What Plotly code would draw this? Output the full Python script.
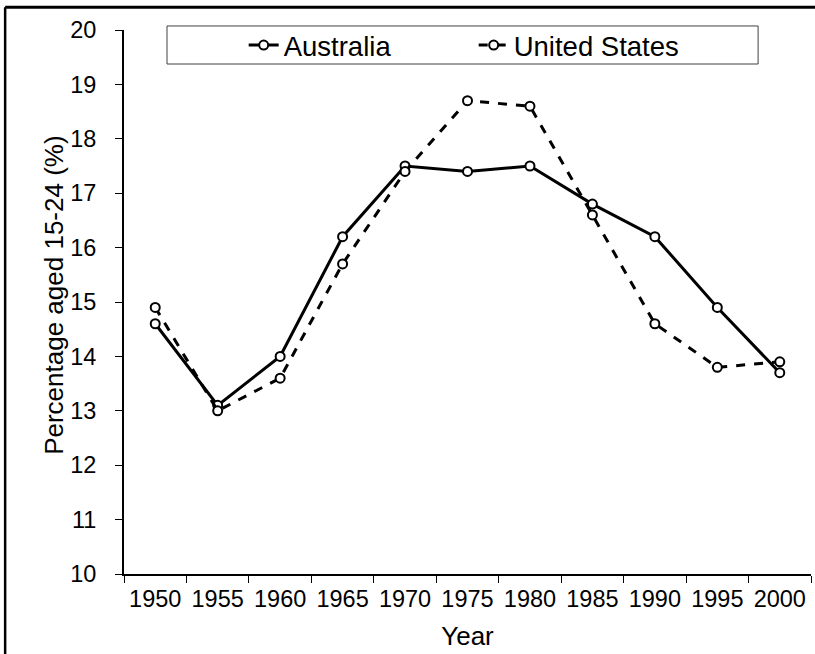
import plotly.graph_objects as go

years = ["1950", "1955", "1960", "1965", "1970", "1975", "1980", "1985", "1990", "1995", "2000"]
australia = [14.6, 13.1, 14.0, 16.2, 17.5, 17.4, 17.5, 16.8, 16.2, 14.9, 13.7]
united_states = [14.9, 13.0, 13.6, 15.7, 17.4, 18.7, 18.6, 16.6, 14.6, 13.8, 13.9]

font_family = "Arial, Liberation Sans, sans-serif"

fig = go.Figure()

# one trace per country, open circle markers
for name, vals, dash in [("Australia", australia, "solid"),
                         ("United States", united_states, "dash")]:
    fig.add_trace(go.Scatter(
        x=years, y=vals, name=name, mode="lines+markers",
        line=dict(color="black", width=3, dash=dash),
        marker=dict(symbol="circle", size=9, color="white",
                    line=dict(color="black", width=2)),
    ))

fig.update_layout(
    width=815,
    height=654,
    margin=dict(l=124, r=4, t=30, b=80, autoexpand=False),
    paper_bgcolor="white",
    plot_bgcolor="white",
    font=dict(family=font_family, color="black", size=23.5),
    legend=dict(
        orientation="h",
        x=0.509, xanchor="center",
        y=0.972, yanchor="middle",
        font=dict(size=27.5),
        entrywidth=185,
        bgcolor="rgba(0,0,0,0)",
        borderwidth=0,
    ),
    xaxis=dict(
        type="category",
        range=[-0.5, len(years) - 0.5],
        tickson="boundaries",
        ticks="outside",
        ticklen=7,
        tickcolor="black",
        tickangle=0,
        ticklabelstandoff=3,
        showline=True,
        linecolor="black",
        linewidth=2,
        showgrid=False,
        zeroline=False,
        automargin=False,
        tickfont=dict(size=23.5),
        title=dict(text="Year", font=dict(size=26), standoff=16),
    ),
    yaxis=dict(
        range=[10, 20],
        dtick=1,
        ticks="outside",
        ticklen=7,
        tickcolor="black",
        ticklabelstandoff=14,
        showline=True,
        linecolor="black",
        linewidth=2,
        showgrid=False,
        zeroline=False,
        automargin=False,
        tickfont=dict(size=23.5),
    ),
)

# y title as a rotated annotation so it can sit closer to the tick labels
fig.add_annotation(text="Percentage aged 15-24 (%)", textangle=-90,
                   xref="paper", yref="paper", x=-0.102, y=0.513,
                   xanchor="center", yanchor="middle", showarrow=False,
                   font=dict(size=26))

# legend box
fig.add_shape(type="rect", xref="paper", yref="paper",
              x0=0.0626, x1=0.923, y0=0.9375, y1=1.0074,
              line=dict(color="#404040", width=1), fillcolor="rgba(0,0,0,0)")
# outer frame: left and top edges only show in the window
fig.add_shape(type="line", xref="paper", yref="paper",
              x0=-0.173, x1=1.05, y0=1.042, y1=1.042,
              line=dict(color="black", width=3), layer="above")
fig.add_shape(type="line", xref="paper", yref="paper",
              x0=-0.173, x1=-0.173, y0=-0.2, y1=1.042,
              line=dict(color="black", width=2.5), layer="above")

# drop the default page margin so the figure sits at the window corner
fig.write_html("out.html", config={"displayModeBar": False},
               post_script="document.body.style.margin='0';")
